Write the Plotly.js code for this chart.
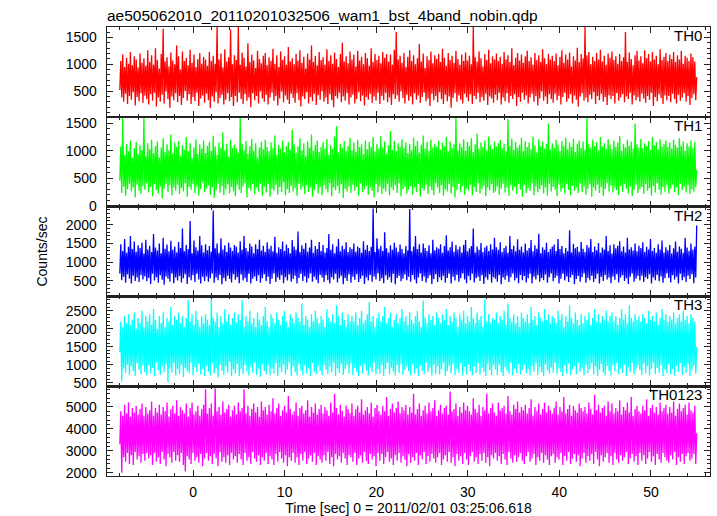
<!DOCTYPE html>
<html>
<head>
<meta charset="utf-8">
<script src="https://cdn.plot.ly/plotly-3.0.1.min.js"></script>
<style>html,body{margin:0;padding:0;background:#fff;}#chart{width:717px;height:516px;}</style>
</head>
<body>
<div id="chart"></div>
<script>
// ---- data ----
const chartTitle = "ae505062010_20110201032506_wam1_bst_4band_nobin.qdp";
const xTitle = "Time [sec] 0 = 2011/02/01 03:25:06.618";
const yTitle = "Counts/sec";
const tStart = -8;
const tEnd = 55;
const bandNames = ["TH0", "TH1", "TH2", "TH3", "TH0123"];
const bandColors = ["#ff0000", "#00ff00", "#0000ff", "#00ffff", "#ff00ff"];

const th0 = [
520,1060,380,1180,300,950,450,1120,260,1010,410,1230,340,980,480,1150,230,1090,390,940,310,1200,460,1030,280,1110,420,970,350,1260,
250,1040,440,1170,320,990,470,1300,210,1080,380,920,300,1190,430,1660,270,1050,490,1130,350,960,190,1220,400,1070,330,1000,460,1350,
290,1150,410,900,240,1240,370,1060,500,1120,320,980,440,1270,260,1030,390,1180,310,950,470,1100,220,1210,360,1010,420,1140,280,1090,
450,970,330,1230,180,1060,400,1160,300,1010,480,1700,270,1090,370,1200,430,940,250,1280,340,1050,460,1130,310,1650,390,1000,220,1170,
410,1080,290,1700,470,990,350,1220,260,1120,440,960,320,1390,380,1040,200,1180,460,1070,330,930,410,1250,270,1100,490,1020,360,1160,
300,1210,430,980,250,1130,380,1060,470,1290,320,1010,410,1170,230,950,360,1240,490,1080,290,1150,420,990,340,1320,260,1050,450,1110,
370,1000,280,1190,460,1070,330,1260,210,1030,400,1140,350,920,480,1200,270,1090,390,1350,310,1040,450,1160,240,980,420,1230,340,1080,
490,1130,300,990,380,1280,260,1060,440,1170,330,1010,200,1220,410,1100,360,950,470,1190,290,1400,400,1050,320,1150,460,1020,250,1240,
380,1090,430,1180,270,960,350,1250,480,1070,310,1140,420,1000,230,1210,390,1110,340,970,450,1300,280,1040,400,1190,320,1080,470,1160,
260,1020,410,1230,330,1120,470,1190,290,1050,380,1180,240,990,440,1270,350,1600,420,1090,300,1160,490,1030,370,1210,270,950,430,1140,
320,1260,400,1060,250,1170,460,1000,340,1110,420,1380,280,1050,390,1200,470,930,310,1150,360,1080,220,1240,450,1020,330,1170,410,1100,
290,1190,480,1040,350,1290,260,1120,430,970,310,1210,400,1080,190,1160,370,1030,460,1250,300,1100,420,990,340,1180,270,1060,450,1220,
380,1070,310,1160,440,1000,260,1700,410,1130,350,1050,470,1240,290,1110,390,960,320,1190,450,1080,240,1270,400,1020,360,1150,280,1090,
430,1200,330,1060,470,1140,250,1010,380,1230,310,1090,460,1170,280,1040,410,1300,350,980,440,1120,220,1210,390,1070,300,1180,470,1030,
340,1150,420,1250,270,1060,380,1130,450,990,300,1210,410,1080,230,1170,360,1040,490,1280,320,1110,400,1000,260,1190,440,1090,350,1160,
280,1060,450,1200,330,980,410,1140,250,1260,390,1030,470,1180,300,1090,360,1220,440,960,270,1150,420,1070,340,1310,210,1040,400,1190,
460,1110,320,1700,380,1170,290,1230,430,1000,350,1140,480,1060,260,1210,410,1090,330,1270,450,1050,300,1160,390,990,240,1200,420,1120,
350,1240,410,1080,270,1150,460,1010,320,1190,380,1060,440,1130,290,1600,400,1040,350,1220,470,1100,250,980,420,1170,330,1250,390,1070,
300,1150,450,1020,360,1260,280,1110,410,1190,340,1050,470,1230,220,1090,390,1160,310,1000,440,1280,370,1080,260,1140,420,1210,330,1060,
410,1180,290,1100,450,1230,350,1040,270,1170,430,1090,320,1250,380,1010,460,1160,300,1120,410,1060,240,1200,370,1130,440,1050,330,760
];
const th1 = [
460,1080,230,1600,350,920,180,1130,300,990,400,1190,260,870,330,1050,150,1160,380,940,270,1100,210,1010,360,1600,290,900,410,1140,
240,1030,340,1200,170,960,390,1090,280,1170,220,880,350,1060,130,1230,310,980,400,1120,250,1010,370,1300,190,950,330,1150,270,1070,
380,1180,210,910,320,1100,260,1020,410,1250,160,990,340,1140,290,870,390,1060,230,1210,350,940,180,1120,300,1040,420,1190,250,960,
310,1090,370,1160,200,1000,330,1270,140,1080,280,930,400,1150,240,1060,360,1340,190,1010,300,1130,390,890,220,1200,340,1050,260,1110,
170,1040,380,970,290,1600,230,1130,350,1020,410,1180,150,950,320,1090,270,1220,390,1000,210,1140,330,880,260,1060,400,1170,180,1030,
350,1200,240,1070,390,990,160,1150,310,1050,270,1280,380,930,200,1110,340,1040,250,1190,420,970,190,1090,300,1160,230,1020,360,1390,
260,1120,320,960,180,1080,400,1230,290,1010,350,1140,210,900,370,1170,250,1060,330,1300,160,1000,280,1110,390,1190,220,980,340,1070,
190,1160,370,1040,300,1210,240,930,410,1100,170,1030,330,1260,280,1450,360,970,220,1130,390,1050,140,1180,310,1000,260,1090,350,1240,
230,1010,380,1150,270,980,340,1200,180,1070,410,1120,250,940,300,1190,360,1030,200,1160,330,1080,270,1250,150,990,390,1130,240,1040,
350,1270,210,1060,310,1170,260,940,400,1100,190,1360,330,1020,280,1180,370,990,230,1140,410,1070,170,1210,300,1050,340,1150,220,960,
290,1130,360,1010,200,1240,330,1090,250,1180,400,970,160,1110,320,1280,270,1040,380,1160,210,1000,350,1200,280,1060,190,1130,410,1080,
330,1190,230,1020,370,1150,180,1080,300,1250,260,990,390,1170,220,1050,340,1120,150,1600,280,1010,400,1140,240,1070,360,1210,200,1000,
310,1160,270,1090,380,1230,190,980,340,1120,250,1310,410,1040,220,1150,300,1070,360,1190,170,1010,330,1260,280,1100,390,1030,230,1170,
260,1080,350,1140,200,1200,310,1050,400,1130,240,990,330,1580,180,1090,370,1220,270,1020,340,1160,210,1060,390,1110,290,1240,160,1000,
380,1180,230,1070,320,1150,270,1030,410,1260,190,1100,350,970,250,1210,300,1080,370,1170,220,1040,330,1130,180,1500,400,1020,260,1140,
340,1060,290,1200,170,1110,380,1000,260,1180,320,1090,220,1240,400,1030,290,1150,190,1070,360,1220,270,980,330,1130,230,1190,410,1050,
250,1170,350,1020,200,1600,310,1130,390,1060,160,1200,330,1090,270,1160,380,1010,230,1250,340,1080,180,1140,300,1040,410,1210,260,1110,
370,1030,240,1190,330,1080,280,1150,190,1270,360,1000,250,1130,400,1060,310,1200,220,1090,350,1170,170,1040,290,1500,380,1120,230,1060,
300,1220,340,1050,210,1140,390,1090,270,1180,320,1020,180,1250,360,1100,240,1160,410,1030,290,1210,200,1080,340,1130,260,1190,370,1070,
220,1150,310,1040,380,1200,250,1110,330,1060,190,1230,400,1090,280,1170,350,1000,240,1140,370,1080,210,1190,300,1050,260,1160,340,650
];
const th2 = [
700,1480,520,1300,610,1620,450,1250,680,1410,560,1700,430,1350,640,1550,500,1280,590,1450,470,1380,660,1520,540,1230,620,1600,490,1340,
580,1440,420,1270,690,1750,510,1390,600,1310,450,1500,650,1240,530,1650,400,1360,620,1470,560,1290,480,1570,700,1330,440,1420,590,1260,
510,1540,630,1380,460,1900,570,1290,680,1460,420,1350,600,2100,520,1240,650,1580,470,1400,690,1310,540,1700,430,1450,610,1260,500,1480,
620,1320,480,1430,570,1280,700,2380,450,1370,590,1500,520,1250,660,1640,410,1340,580,1450,490,1270,640,1520,550,1390,460,1300,680,1460,
530,1410,600,1260,440,1560,670,1330,510,1700,580,1380,470,1290,690,1500,430,1420,560,1240,620,1480,500,1350,650,1600,450,1310,570,1440,
680,1270,490,1530,610,1360,420,1440,560,1290,700,1680,470,1250,590,1400,530,1350,650,1550,440,1300,600,1470,510,1380,670,1240,480,1590,
550,1420,640,1330,430,1820,580,1270,690,1450,500,1360,620,1510,460,1280,570,1390,700,1600,480,1250,610,1430,530,1350,440,1540,660,1300,
590,1460,470,1260,650,1380,520,1750,430,1330,600,1480,540,1240,690,1420,460,1620,570,1290,640,1440,410,1350,580,1530,500,1270,670,1400,
450,1350,610,1500,530,1280,680,1420,470,1380,560,1250,640,1560,420,1330,590,1460,510,1300,660,1410,480,2430,620,1270,540,1640,700,1360,
500,1440,570,1300,440,1800,650,1370,530,1260,600,1450,460,1330,690,1520,410,1390,580,1280,640,1470,490,1350,560,1240,670,1430,520,1310,
610,2420,480,1290,660,1420,540,1700,430,1350,590,1480,700,1260,500,1500,620,1380,460,1300,570,1450,650,1240,420,1600,550,1320,680,1400,
470,1360,600,1480,520,1250,640,1430,450,1720,580,1310,690,1400,430,1550,610,1280,510,1460,660,1340,480,1420,570,1260,700,1460,540,1590,
440,1290,630,1370,520,1430,690,1900,460,1260,570,1420,610,1330,500,1510,650,1270,420,1390,590,1440,530,1300,680,1480,450,1340,600,1650,
560,1400,480,1330,660,1530,410,1270,590,1380,530,1440,640,1250,470,1700,600,1350,700,1440,510,1290,580,1610,440,1330,660,1420,520,1260,
630,1500,460,1310,570,1380,690,1590,430,1290,610,1450,540,1360,650,1760,480,1240,580,1400,520,1330,670,1520,450,1270,600,1350,700,1420,
490,1470,580,1300,640,1620,430,1350,560,1430,690,1240,510,1380,620,1290,470,1850,590,1260,660,1490,420,1370,550,1410,630,1280,480,1540,
600,1360,700,1270,450,1460,580,1390,520,1620,640,1270,470,1420,560,1320,690,1510,430,1250,610,1390,500,1340,660,1700,540,1300,590,1450,
440,1230,620,1480,530,1370,680,1440,460,1560,590,1290,650,1420,500,1260,570,1650,420,1340,610,1400,700,1310,480,1500,560,1290,630,1440,
510,1380,640,1530,470,1270,600,1410,550,1340,680,1620,430,1300,590,1380,520,1250,660,1480,490,1340,620,1580,450,1260,570,1400,700,1320,
580,1460,460,1230,650,1370,540,1550,610,1280,430,1420,690,1360,520,1250,600,1650,470,1390,640,1300,550,1500,680,1340,440,1410,590,1980
];
const th3 = [
1350,2200,540,2050,900,2350,780,2150,1000,2400,720,2100,950,2250,820,2450,680,2000,1050,2300,860,2150,740,2500,980,2050,800,2350,700,2200,
1000,2400,760,2100,920,2550,680,2250,1080,2000,840,2350,720,2150,960,2450,800,2050,1020,2300,520,2200,900,2600,780,2100,1050,2350,700,2250,
880,2450,740,2150,1000,2350,660,2050,920,2300,820,2800,760,2200,1060,2400,700,2100,940,2500,800,2250,1020,2050,730,2350,890,2150,680,2400,
970,2250,810,2100,700,2850,1040,2300,760,2200,900,2450,650,2050,1000,2350,830,2150,720,2550,950,2200,780,2400,1080,2100,690,2300,870,2450,
760,2150,1020,2400,690,2250,880,2800,740,2050,1000,2350,820,2200,700,2500,960,2150,780,2300,1060,2050,720,2450,900,2250,660,2100,1010,2350,
830,2600,740,2200,980,2050,700,2400,890,2300,760,2150,1040,2450,680,2250,920,2100,800,2350,1000,2500,730,2200,870,2050,1070,2400,690,2300,
950,2150,790,2450,700,2300,1030,2200,840,2700,720,2100,980,2350,760,2250,900,2050,680,2400,1050,2200,800,2500,740,2300,960,2150,830,2350,
700,2250,1000,2050,860,2550,730,2300,950,2200,790,2400,1060,2150,680,2650,900,2350,770,2100,1010,2450,720,2250,880,2050,990,2400,750,2200,
1040,2350,710,2200,920,2450,800,2100,690,2300,970,2500,760,2150,1020,2250,840,2400,700,2750,930,2200,790,2350,1070,2050,740,2300,880,2450,
760,2200,1000,2350,690,2600,880,2150,1050,2300,740,2450,920,2050,810,2250,700,2400,990,2150,770,2300,1030,2550,720,2200,860,2350,950,2100,
820,2450,700,2250,1010,2150,760,2350,900,2500,680,2200,980,2050,830,2780,740,2300,1060,2150,790,2400,920,2250,700,2350,1000,2100,750,2450,
960,2300,730,2150,880,2400,1040,2250,690,2550,820,2100,970,2350,760,2200,1020,2450,710,2300,890,2050,780,2400,1050,2250,700,2500,940,2150,
740,2350,1000,2200,820,2600,700,2300,960,2150,780,2450,1060,2250,730,2350,910,2050,800,2820,690,2200,1030,2400,850,2150,720,2300,990,2250,
870,2450,710,2150,1000,2350,790,2250,680,2500,940,2100,830,2700,750,2300,1050,2200,700,2400,900,2150,770,2350,1020,2050,730,2450,860,2300,
1000,2200,760,2400,880,2150,700,2600,970,2250,810,2350,1040,2100,720,2450,930,2300,790,2200,690,2550,1010,2250,840,2400,750,2150,920,2350,
780,2300,1050,2150,730,2500,900,2250,800,2400,690,2050,990,2350,760,2200,1030,2650,710,2300,870,2150,950,2450,740,2250,1060,2100,800,2400,
920,2150,700,2350,1000,2250,770,2450,880,2100,1040,2300,730,2550,950,2200,690,2400,860,2150,1020,2350,780,2250,710,2500,970,2200,830,2350,
700,2450,990,2200,820,2350,1050,2100,740,2300,900,2550,780,2250,1010,2400,690,2150,940,2650,800,2300,1060,2200,730,2400,880,2250,990,2350,
850,2200,720,2400,1030,2300,770,2150,960,2500,700,2250,890,2350,1040,2200,740,2450,910,2100,780,2300,1000,2550,690,2250,870,2400,760,2200,
1010,2350,740,2250,880,2450,700,2150,960,2300,800,2400,1050,2200,720,2500,930,2250,780,2350,1020,2150,690,2400,860,2300,970,2200,750,1500
];
const th0123 = [
3300,4800,2000,4600,2700,5100,2500,4700,2900,5200,2400,4550,2800,4950,2350,4750,2950,5050,2600,4650,2750,4900,2450,5150,2850,4600,2550,5000,2900,4700,
2650,4850,2800,5250,2350,4600,2900,4950,2500,4750,2700,5100,2400,4650,2950,5000,2600,4800,2300,5200,2850,4550,2700,4900,2450,5050,2950,4700,2550,5300,
2800,4600,2500,5000,2900,4850,2350,4700,2050,5150,2750,4550,2600,4950,2400,5200,2900,4650,2550,4800,2700,5050,2450,4600,2850,4900,2300,5100,2650,5800,
2900,4700,2550,4950,2750,5150,2400,4600,2850,5850,2650,4800,2300,5000,2950,4650,2500,5250,2700,4750,2450,4900,2800,5100,2350,4550,2900,4850,2600,5050,
2750,4650,2450,5200,2850,4800,2600,4950,2350,5800,2900,4700,2550,5050,2700,4600,2400,4900,2950,5150,2650,4750,2500,5000,2800,4550,2350,5250,2700,4850,
2550,5000,2900,4650,2400,5100,2750,4800,2600,5400,2350,4700,2850,4950,2500,5150,2950,4600,2650,4850,2450,5050,2800,4750,2300,5500,2700,4900,2550,4650,
2900,4800,2450,5200,2700,4600,2350,4950,2850,5050,2550,4700,2950,4850,2400,5300,2650,4550,2800,5000,2500,4750,2900,5150,2350,4650,2750,4900,2600,5100,
2450,4700,2800,5000,2550,4850,2950,4600,2400,5200,2700,4750,2300,5600,2850,4950,2600,4650,2750,5100,2450,4800,2900,4550,2650,5050,2350,4900,2800,4700,
2700,5150,2500,4600,2900,4900,2350,5050,2650,4750,2800,5350,2450,4650,2950,4850,2550,5000,2400,4700,2850,5200,2600,4550,2750,4950,2300,5100,2900,4800,
2550,4650,2850,5050,2400,4800,2700,5450,2950,4600,2500,4900,2650,5150,2350,4750,2800,4950,2550,5250,2900,4700,2450,5000,2750,4850,2600,5100,2300,4650,
2850,5000,2450,4750,2700,5600,2550,4650,2900,4900,2350,5150,2800,4600,2600,4850,2950,5050,2400,4700,2750,5200,2500,4800,2850,4950,2650,5300,2450,4600,
2700,4850,2900,5100,2350,4700,2600,4950,2800,5050,2500,4650,2950,5700,2450,4800,2700,4900,2300,5150,2850,4600,2550,5000,2750,4750,2400,5200,2900,4850,
2600,5050,2350,4800,2750,4650,2950,5400,2500,4900,2700,4750,2400,5100,2850,4600,2550,5000,2900,4850,2450,5600,2700,4700,2300,4950,2800,5150,2650,4750,
2900,4600,2550,5200,2750,4850,2400,4950,2850,5050,2600,4700,2350,5500,2950,4800,2650,4650,2450,5100,2800,4900,2500,5250,2700,4750,2900,5000,2550,4850,
2400,5100,2750,4700,2950,4950,2500,5350,2650,4600,2850,5000,2350,4800,2700,5150,2550,4650,2900,4900,2450,5200,2800,4750,2600,5050,2350,4850,2750,4700,
2850,4950,2450,5250,2700,4650,2600,5000,2900,4800,2350,5450,2750,4700,2550,4900,2950,5100,2400,4600,2650,5050,2850,4850,2500,4750,2800,5150,2300,4950,
2650,4800,2900,5000,2450,4700,2750,5200,2550,4900,2850,4650,2400,5550,2950,4850,2600,5100,2300,4750,2800,4950,2500,5050,2700,4600,2900,5250,2450,4800,
2750,5150,2350,4700,2900,4950,2600,4800,2450,5300,2800,4650,2550,5000,2700,4850,2950,5200,2400,4750,2650,5450,2850,4600,2500,4900,2750,5050,2350,4800,
2900,4700,2550,5050,2800,4850,2400,5350,2650,4600,2950,4950,2500,5100,2750,4750,2350,5000,2850,4650,2600,5200,2450,4800,2900,4950,2700,5100,2550,4700,
2450,5000,2800,4750,2600,5250,2950,4600,2350,4900,2700,5150,2500,4800,2850,4950,2400,5100,2750,4650,2900,5200,2550,4850,2650,4750,2850,5050,2400,3800
];
const bandValues = [th0, th1, th2, th3, th0123];
const yRanges = [[20, 1695], [-18, 1621], [87, 2484], [406, 2897], [1850, 5945]];
const yMajor = [500, 500, 500, 500, 1000];
const yMinor = [100, 100, 100, 100, 200];
const xRange = [-9.4, 56.45];

// ---- build ----
const FONT = "Liberation Sans, Arial, Helvetica, sans-serif";
const LINEC = "#222222";
const traces = [];
const layout = {
  width: 717, height: 516,
  margin: {l: 107, r: 7, t: 27, b: 40},
  paper_bgcolor: "#ffffff", plot_bgcolor: "#ffffff",
  showlegend: false,
  font: {family: FONT, size: 14, color: "#000"},
  title: {text: chartTitle, font: {family: FONT, size: 15.5, color: "#000"},
          xref: "paper", x: 0, xanchor: "left", yref: "container", y: 1 - 15.5/516, yanchor: "middle"},
  annotations: []
};

for (let k = 0; k < 5; k++) {
  const vals = bandValues[k];
  const n = vals.length;
  const ts = vals.map((_, i) => tStart + i * (tEnd - tStart) / (n - 1));
  const xa = k === 0 ? "x" : "x" + (k + 1);
  const ya = k === 0 ? "y" : "y" + (k + 1);
  traces.push({
    type: "scatter", mode: "lines", x: ts, y: vals,
    xaxis: xa, yaxis: ya, name: bandNames[k],
    line: {color: bandColors[k], width: 1.3, simplify: false},
    hoverinfo: "skip"
  });
  const dom = [(4 - k) * 0.2, (5 - k) * 0.2];
  const xKey = k === 0 ? "xaxis" : "xaxis" + (k + 1);
  const yKey = k === 0 ? "yaxis" : "yaxis" + (k + 1);
  const isBottom = k === 4;
  const xax = {
    anchor: ya, domain: [0, 1],
    range: xRange, autorange: false,
    tick0: 0, dtick: 10, ticks: "inside", ticklen: 6, tickwidth: 1, tickcolor: LINEC,
    minor: {dtick: 2, tick0: 0, ticks: "inside", ticklen: 3, tickcolor: LINEC, showgrid: false},
    showline: true, linecolor: LINEC, linewidth: 1.3, mirror: "allticks",
    showgrid: false, zeroline: false,
    showticklabels: isBottom,
    tickfont: {family: FONT, size: 14, color: "#000"},
    ticklabelstandoff: 3
  };
  if (!isBottom) xax.matches = "x5";
  if (isBottom) xax.title = {text: xTitle, font: {family: FONT, size: 14, color: "#000"}, standoff: 6};
  layout[xKey] = xax;
  const yax = {
    anchor: xa, domain: dom,
    range: yRanges[k], autorange: false,
    tick0: 0, dtick: yMajor[k], ticks: "inside", ticklen: 6, tickwidth: 1, tickcolor: LINEC,
    minor: {dtick: yMinor[k], tick0: 0, ticks: "inside", ticklen: 3, tickcolor: LINEC, showgrid: false},
    showline: true, linecolor: LINEC, linewidth: 1.3, mirror: "allticks",
    showgrid: false, zeroline: false,
    tickfont: {family: FONT, size: 14, color: "#000"},
    ticklabelstandoff: 6
  };
  if (k === 2) yax.title = {text: yTitle, font: {family: FONT, size: 14, color: "#000"}, standoff: 14};
  layout[yKey] = yax;
  layout.annotations.push({
    text: bandNames[k], showarrow: false,
    xref: "paper", x: 0.988, xanchor: "right",
    yref: ya + " domain", y: 1, yanchor: "top", yshift: 1,
    font: {family: FONT, size: 15, color: "#000"},
    bgcolor: "rgba(0,0,0,0)", borderpad: 0
  });
}

Plotly.newPlot("chart", traces, layout, {displayModeBar: false, staticPlot: true});
</script>
</body>
</html>
